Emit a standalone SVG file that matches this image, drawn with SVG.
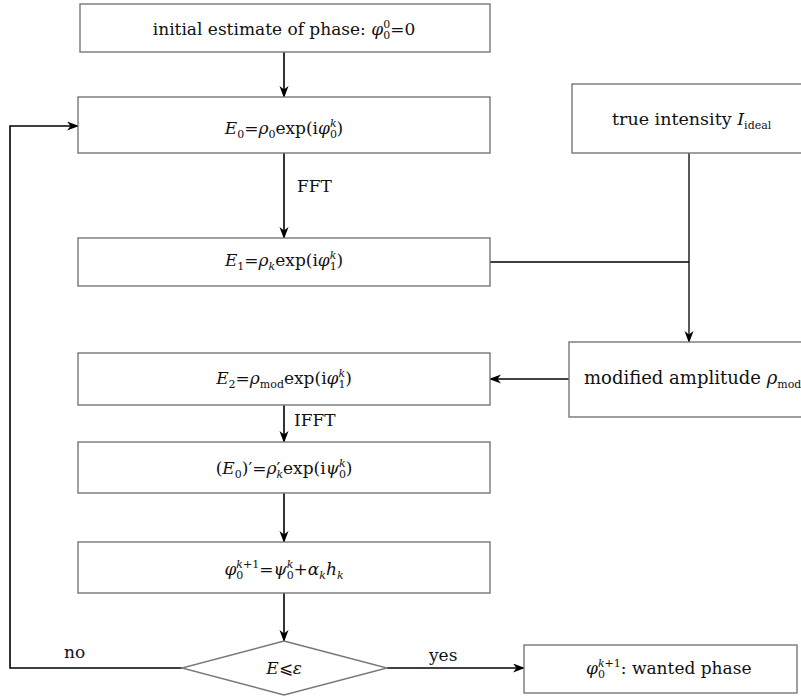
<svg xmlns="http://www.w3.org/2000/svg" width="801" height="696" viewBox="0 0 801 696">
<style>
.box{fill:#fff;stroke:#777;stroke-width:1.4}
.ln{fill:none;stroke:#000;stroke-width:1.6}
text{font-family:"DejaVu Serif","Liberation Serif",serif;font-size:17px;fill:#111}
.m{text-anchor:middle}
.i{font-style:italic}
.s{font-size:11px}
</style>
<defs>
<marker id="ah" markerWidth="12" markerHeight="10" refX="11" refY="4.5" orient="auto" markerUnits="userSpaceOnUse">
<path d="M0,0 L12,4.5 L0,9 L3.5,4.5 z" fill="#000"/>
</marker>
</defs>
<rect width="801" height="696" fill="#fff"/>
<g id="connectors">
<line class="ln" x1="284" y1="52" x2="284" y2="97" marker-end="url(#ah)"/>
<line class="ln" x1="284" y1="153" x2="284" y2="238" marker-end="url(#ah)"/>
<polyline class="ln" points="490,262 689,262" style="stroke-width:1.3"/>
<line class="ln" x1="689" y1="153" x2="689" y2="342" marker-end="url(#ah)" style="stroke-width:1.3"/>
<line class="ln" x1="569" y1="379" x2="490" y2="379" marker-end="url(#ah)"/>
<line class="ln" x1="284" y1="405" x2="284" y2="442" marker-end="url(#ah)"/>
<line class="ln" x1="284" y1="493" x2="284" y2="542" marker-end="url(#ah)"/>
<line class="ln" x1="284" y1="593" x2="284" y2="641" marker-end="url(#ah)"/>
<polyline class="ln" points="182,668 10,668 10,126 78,126" marker-end="url(#ah)"/>
<line class="ln" x1="387" y1="668" x2="524" y2="668" marker-end="url(#ah)"/>
<text x="297" y="192">FFT</text>
<text x="294" y="426">IFFT</text>
<text x="64" y="658">no</text>
<text x="429" y="661">yes</text>
</g>
<g id="init">
<rect class="box" x="80" y="4" width="410" height="48"/>
<text class="m" x="284" y="35">initial estimate of phase: <tspan class="i">φ</tspan><tspan class="s" dy="4">0</tspan><tspan class="s" dx="-7" dy="-11">0</tspan><tspan dy="7">=0</tspan></text>
</g>
<g id="e0">
<rect class="box" x="78" y="97" width="412" height="56"/>
<text class="m" x="284" y="134"><tspan class="i">E</tspan><tspan class="s" dy="4">0</tspan><tspan dy="-4">=</tspan><tspan class="i">ρ</tspan><tspan class="s" dy="4">0</tspan><tspan dy="-4">exp(i</tspan><tspan class="i">φ</tspan><tspan class="s" dy="4">0</tspan><tspan class="s i" dx="-7" dy="-11">k</tspan><tspan dy="7">)</tspan></text>
</g>
<g id="truei">
<rect class="box" x="572" y="84" width="240" height="69"/>
<text x="612" y="125" style="font-size:17.5px">true intensity <tspan class="i">I</tspan><tspan class="s" dy="4">ideal</tspan></text>
</g>
<g id="e1">
<rect class="box" x="78" y="238" width="412" height="48"/>
<text class="m" x="284" y="266"><tspan class="i">E</tspan><tspan class="s" dy="4">1</tspan><tspan dy="-4">=</tspan><tspan class="i">ρ</tspan><tspan class="s i" dy="4">k</tspan><tspan dy="-4">exp(i</tspan><tspan class="i">φ</tspan><tspan class="s" dy="4">1</tspan><tspan class="s i" dx="-7" dy="-11">k</tspan><tspan dy="7">)</tspan></text>
</g>
<g id="mod">
<rect class="box" x="569" y="342" width="245" height="75"/>
<text x="584" y="384" style="font-size:18px">modified amplitude <tspan class="i">ρ</tspan><tspan class="s" dy="4">mod</tspan></text>
</g>
<g id="e2">
<rect class="box" x="78" y="353" width="412" height="52"/>
<text class="m" x="284" y="384"><tspan class="i">E</tspan><tspan class="s" dy="4">2</tspan><tspan dy="-4">=</tspan><tspan class="i">ρ</tspan><tspan class="s" dy="4">mod</tspan><tspan dy="-4">exp(i</tspan><tspan class="i">φ</tspan><tspan class="s" dy="4">1</tspan><tspan class="s i" dx="-7" dy="-11">k</tspan><tspan dy="7">)</tspan></text>
</g>
<g id="e0p">
<rect class="box" x="78" y="442" width="412" height="51"/>
<text class="m" x="284" y="474">(<tspan class="i">E</tspan><tspan class="s" dy="4">0</tspan><tspan dy="-4">)′=</tspan><tspan class="i">ρ</tspan><tspan>′</tspan><tspan class="s i" dx="-4" dy="4">k</tspan><tspan dy="-4">exp(i</tspan><tspan class="i">ψ</tspan><tspan class="s" dy="4">0</tspan><tspan class="s i" dx="-7" dy="-11">k</tspan><tspan dy="7">)</tspan></text>
</g>
<g id="update">
<rect class="box" x="78" y="542" width="412" height="51"/>
<text class="m" x="284" y="575"><tspan class="i">φ</tspan><tspan class="s" dy="4">0</tspan><tspan class="s" dx="-7" dy="-11"><tspan class="i">k</tspan>+1</tspan><tspan dy="7">=</tspan><tspan class="i">ψ</tspan><tspan class="s" dy="4">0</tspan><tspan class="s i" dx="-7" dy="-11">k</tspan><tspan dy="7">+</tspan><tspan class="i">α</tspan><tspan class="s i" dy="4">k</tspan><tspan class="i" dy="-4">h</tspan><tspan class="s i" dy="4">k</tspan></text>
</g>
<g id="check">
<polygon class="box" points="284,641 387,668 284,695 182,668"/>
<text class="m" x="284" y="674"><tspan class="i">E</tspan>⩽<tspan class="i">ε</tspan></text>
</g>
<g id="result">
<rect class="box" x="524" y="645" width="273" height="48"/>
<text x="586" y="674"><tspan class="i">φ</tspan><tspan class="s" dy="4">0</tspan><tspan class="s" dx="-7" dy="-11"><tspan class="i">k</tspan>+1</tspan><tspan dy="7">: wanted phase</tspan></text>
</g>
</svg>
